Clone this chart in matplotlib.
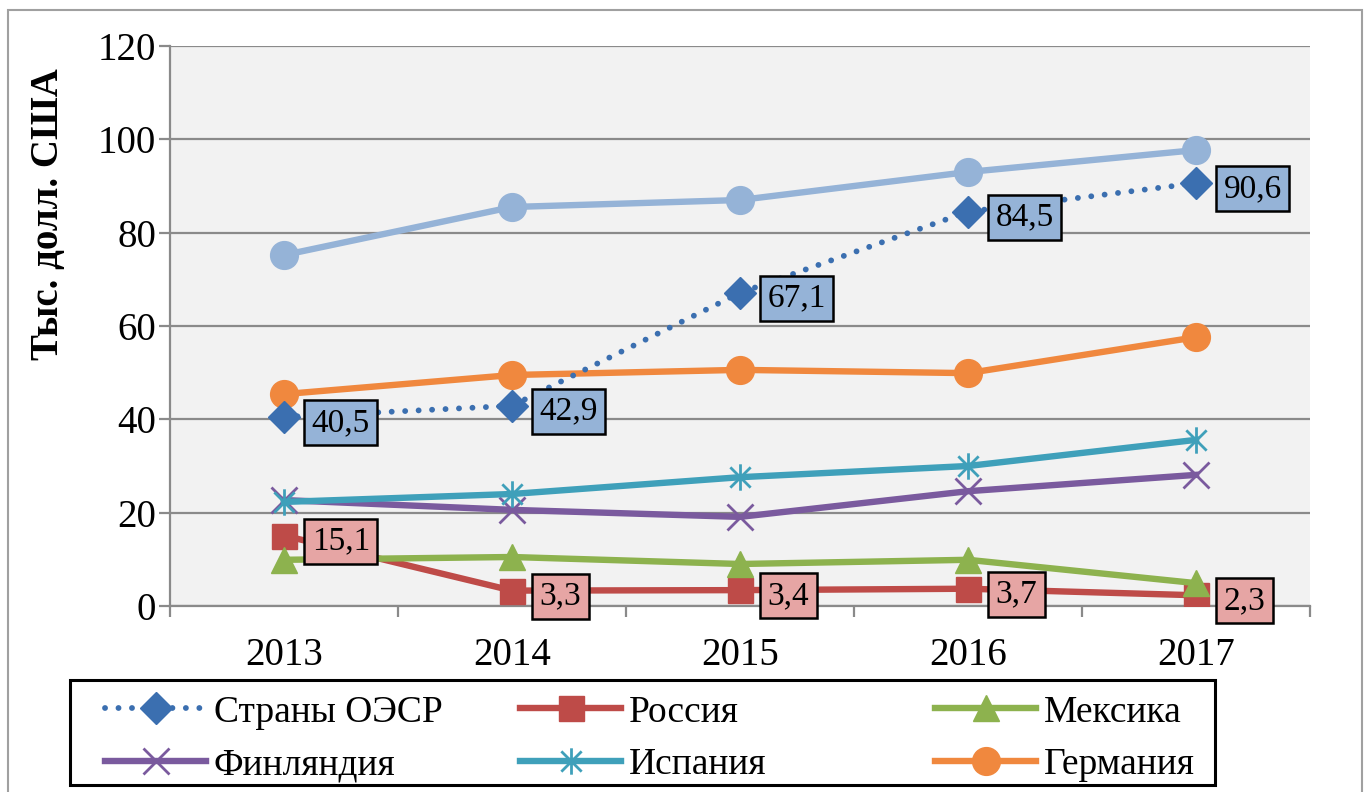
import numpy as np
import matplotlib
matplotlib.use("Agg")
import matplotlib.pyplot as plt
from matplotlib.path import Path
from matplotlib.patches import Rectangle

SERIF = 'Liberation Serif'
plt.rcParams['font.family'] = [SERIF, 'DejaVu Serif']

# --- data ---
years = ["2013", "2014", "2015", "2016", "2017"]
top_series = [75.2, 85.5, 87.0, 93.0, 97.7]      # light blue line, no legend entry
oecd = [40.5, 42.9, 67.1, 84.5, 90.6]
russia = [15.1, 3.3, 3.4, 3.7, 2.3]
mexico = [9.9, 10.5, 9.0, 9.9, 4.9]
finland = [22.7, 20.6, 19.1, 24.6, 28.1]
spain = [22.3, 24.0, 27.6, 30.0, 35.6]
germany = [45.4, 49.5, 50.6, 49.9, 57.6]

names = ["Страны ОЭСР", "Россия", "Мексика", "Финляндия", "Испания", "Германия"]
ylabel = "Тыс. долл. США"

# asterisk marker like the Excel one (x plus vertical bar)
star_path = Path([(-1, -1), (1, 1), (-1, 1), (1, -1), (0, -1.3), (0, 1.3)],
                 [Path.MOVETO, Path.LINETO, Path.MOVETO, Path.LINETO, Path.MOVETO, Path.LINETO])

W, H = 1368, 792
fig = plt.figure(figsize=(W / 100, H / 100), dpi=100)
ax = fig.add_axes([170 / W, 1 - 606 / H, 1140 / W, 560 / H])
ax.set_facecolor('#F2F2F2')

x = np.arange(len(years))
lw = 4.6
h_top, = ax.plot(x, top_series, color='#95B3D7', lw=lw, marker='o', ms=20, zorder=3, label='_nolegend_')
h_ger, = ax.plot(x, germany, color='#F0883E', lw=lw, marker='o', ms=20, zorder=3)
h_fin, = ax.plot(x, finland, color='#7A5A9E', lw=lw, marker='x', ms=19, mew=2, zorder=3)
h_spa, = ax.plot(x, spain, color='#3FA0BA', lw=lw, marker=star_path, ms=19, mew=2, zorder=3)
h_rus, = ax.plot(x, russia, color='#BE4B48', lw=lw, marker='s', ms=18, zorder=3)
h_mex, = ax.plot(x, mexico, color='#8DB24E', lw=lw, marker='^', ms=19, zorder=3)
h_oecd, = ax.plot(x, oecd, color='#3B6FB0', lw=4.2, ls=(0, (0.01, 2.3)), dash_capstyle='round',
                  marker='D', ms=16, zorder=4)

# data labels
for vals, fc in [(oecd, '#95B3D7'), (russia, '#E6A5A4')]:
    for xi, v in zip(x, vals):
        ax.annotate(f"{v:.1f}".replace('.', ','), (xi, v), xytext=(20, -4), textcoords='offset points',
                    ha='left', va='center', fontsize=24, family=SERIF, zorder=6,
                    bbox=dict(boxstyle='square,pad=0.22', fc=fc, ec='black', lw=1.8))

ax.set_xlim(-0.5, len(years) - 0.5)
ax.set_ylim(0, 120)
ax.set_yticks(np.arange(0, 121, 20))
ax.set_xticks(x)
ax.set_xticklabels(years)
ax.set_xticks(np.arange(-0.5, len(years), 1), minor=True)
ax.grid(axis='y', color='#8A8A8A', lw=1.6, zorder=1)
ax.set_axisbelow(True)

for s in ['top', 'right']:
    ax.spines[s].set_visible(False)
for s in ['left', 'bottom']:
    ax.spines[s].set_color('#8A8A8A')
    ax.spines[s].set_linewidth(1.6)

ax.tick_params(axis='y', direction='out', length=8, width=1.6, color='#8A8A8A', labelsize=28, pad=2)
ax.tick_params(axis='x', which='major', length=0, labelsize=28, pad=22)
ax.tick_params(axis='x', which='minor', direction='out', length=8, width=1.6, color='#8A8A8A')
for t in ax.get_xticklabels() + ax.get_yticklabels():
    t.set_fontfamily(SERIF)

ax.set_ylabel(ylabel, fontsize=28, fontweight='bold', family=SERIF)
ax.yaxis.set_label_coords(-0.09, 0.70)

# legend: frame drawn by hand, three one-column legends inside it
fig.patches.append(Rectangle((70 / W, 1 - 785 / H), 1145 / W, 105 / H, transform=fig.transFigure,
                             fill=False, ec='black', lw=2.2, zorder=5))
cols = [([h_oecd, h_fin], [names[0], names[3]], 105),
        ([h_rus, h_spa], [names[1], names[4]], 520),
        ([h_mex, h_ger], [names[2], names[5]], 935)]
for hs, ls_, xpix in cols:
    lg = fig.legend(hs, ls_, loc='upper left', bbox_to_anchor=(xpix / W, 1 - 695 / H),
                    prop=dict(family=SERIF, size=27), frameon=False, handlelength=2.7,
                    handletextpad=0.2, borderpad=0, borderaxespad=0, labelspacing=0.48)

# outer chart border
fig.patches.append(Rectangle((8 / W, -0.02), 1354 / W, 1.02 - 10 / H, transform=fig.transFigure,
                             fill=False, ec='#A0A0A0', lw=1.5))

fig.savefig("out.png", dpi=100)
